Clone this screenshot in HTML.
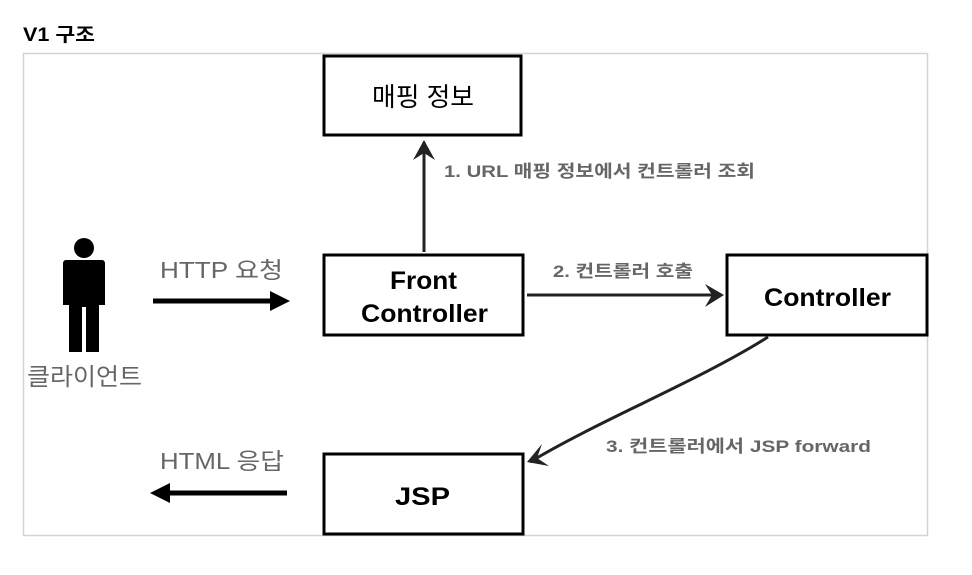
<!DOCTYPE html>
<html><head><meta charset="utf-8"><style>
body{margin:0;width:972px;height:575px;background:#fff;overflow:hidden;font-family:"Liberation Sans","Noto Sans CJK KR",sans-serif}
</style></head><body>
<svg width="972" height="575" xmlns="http://www.w3.org/2000/svg" style="position:absolute;left:0;top:0">
<text x="23" y="41" font-size="19" font-weight="bold" textLength="72" lengthAdjust="spacingAndGlyphs" font-family="Liberation Sans,Noto Sans CJK KR,sans-serif">V1 구조</text>
<rect x="23.5" y="53.5" width="904" height="482" fill="none" stroke="#d4d4d4" stroke-width="1.5"/>
<g fill="none" stroke="#000" stroke-width="3">
<rect x="324" y="56" width="197" height="79"/>
<rect x="324" y="255" width="199" height="80"/>
<rect x="727" y="255" width="200" height="80"/>
<rect x="324" y="454" width="199" height="80"/>
</g>
<g font-family="Liberation Sans,Noto Sans CJK KR,sans-serif" fill="#000" font-weight="bold">
<text x="372" y="106" font-size="26" textLength="102" lengthAdjust="spacingAndGlyphs" font-weight="normal">매핑 정보</text>
<text x="390" y="289" font-size="25" textLength="67" lengthAdjust="spacingAndGlyphs">Front</text>
<text x="361" y="322" font-size="25" textLength="127" lengthAdjust="spacingAndGlyphs">Controller</text>
<text x="764" y="306" font-size="25" textLength="127" lengthAdjust="spacingAndGlyphs">Controller</text>
<text x="395" y="505" font-size="25" textLength="55" lengthAdjust="spacingAndGlyphs">JSP</text>
</g>
<g font-family="Liberation Sans,Noto Sans CJK KR,sans-serif" fill="#666" font-size="23">
<text x="160" y="278" textLength="123" lengthAdjust="spacingAndGlyphs">HTTP 요청</text>
<text x="160" y="469" textLength="124" lengthAdjust="spacingAndGlyphs">HTML 응답</text>
<text x="27" y="385" font-size="24" textLength="115" lengthAdjust="spacingAndGlyphs">클라이언트</text>
</g>
<g font-family="Liberation Sans,Noto Sans CJK KR,sans-serif" fill="#666" font-size="17" font-weight="bold">
<text x="444" y="177" textLength="311" lengthAdjust="spacingAndGlyphs">1. URL 매핑 정보에서 컨트롤러 조회</text>
<text x="553" y="277" textLength="140" lengthAdjust="spacingAndGlyphs">2. 컨트롤러 호출</text>
<text x="606" y="452" textLength="265" lengthAdjust="spacingAndGlyphs">3. 컨트롤러에서 JSP forward</text>
</g>
<!-- person -->
<circle cx="84" cy="248" r="10" fill="#000"/>
<path d="M66 260 H102 Q105 260 105 264 V305 H99 V352 H86 V307 H82 V352 H69 V305 H63 V264 Q63 260 66 260Z" fill="#000"/>
<!-- arrows -->
<line x1="153" y1="301" x2="275" y2="301" stroke="#000" stroke-width="5"/>
<polygon points="270,291 290,301 270,311" fill="#000"/>
<line x1="166" y1="493" x2="287" y2="493" stroke="#000" stroke-width="5"/>
<polygon points="170,483 150,493 170,503" fill="#000"/>
<g stroke="#222" stroke-width="3" fill="none">
<line x1="424" y1="252" x2="424" y2="142"/>
<line x1="527" y1="295" x2="720" y2="295"/>
<path d="M768 337 C700 380 600 420 530 462"/>
</g>
<g fill="#222">
<polygon points="413,160 424,140 435,160 424,153"/>
<polygon points="705,284 724,295 705,307 712,295"/>
<polygon points="542,444 527,462 549,466 537,458"/>
</g>
</svg>
</body></html>
